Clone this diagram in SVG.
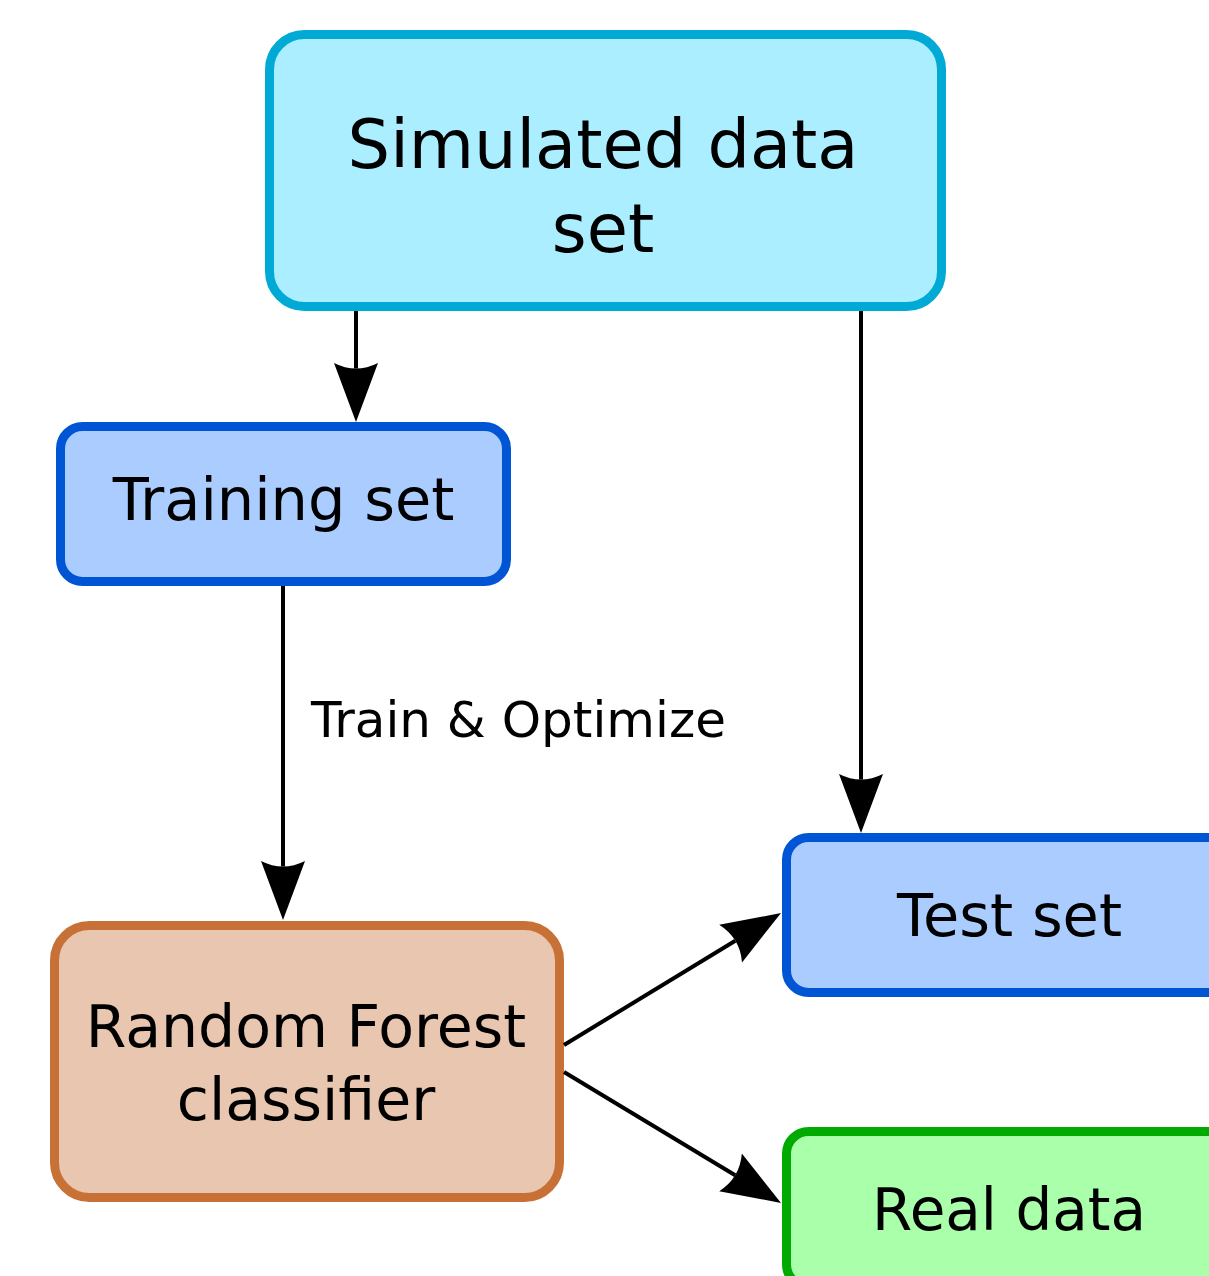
<svg xmlns="http://www.w3.org/2000/svg" width="1209" height="1276" viewBox="0 0 1209 1276">
  <style>
    .box { stroke-width: 9; }
    .sim { fill: #aaeeff; stroke: #00aad4; }
    .set { fill: #aaccff; stroke: #0055d4; }
    .rf { fill: #e9c6af; stroke: #c87137; }
    .real { fill: #aaffaa; stroke: #00aa00; }
    text { font-family: "DejaVu Sans", "Liberation Sans", sans-serif; fill: #000; text-anchor: middle; }
    .lbl { font-size: 59px; }
    .big { font-size: 67px; }
    .edge-lbl { font-size: 50px; text-anchor: start; }
    .edge { fill: none; stroke: #000; stroke-width: 4; marker-end: url(#head); }
  </style>
  <defs>
    <marker id="head" markerUnits="userSpaceOnUse" viewBox="0 -23 60 46" markerWidth="60" markerHeight="46" refX="5.5" refY="0" orient="auto">
      <path d="M59,0 L0,-22 Q11,0 0,22 Z" fill="#000"/>
    </marker>
  </defs>

  <g id="simulated">
    <rect class="box sim" x="269.5" y="34.5" width="672" height="272" rx="35"/>
    <text class="big" x="603" y="168">Simulated data</text>
    <text class="big" x="603" y="252">set</text>
  </g>

  <g id="training">
    <rect class="box set" x="60.5" y="426.5" width="446" height="155" rx="22"/>
    <text class="lbl" x="283.5" y="520">Training set</text>
  </g>

  <g id="forest">
    <rect class="box rf" x="54.5" y="925.5" width="505" height="272" rx="35"/>
    <text class="lbl" x="306" y="1047" style="font-size:58.5px">Random Forest</text>
    <text class="lbl" x="306" y="1120" style="font-size:58.5px">classifier</text>
  </g>

  <g id="test">
    <rect class="box set" x="786.5" y="837.5" width="446" height="155" rx="22"/>
    <text class="lbl" x="1009.5" y="936">Test set</text>
  </g>

  <g id="real">
    <rect class="box real" x="786.5" y="1131.5" width="446" height="155" rx="22"/>
    <text class="lbl" x="1009" y="1230" style="font-size:58px">Real data</text>
  </g>

  <g id="connectors">
    <path class="edge" d="M356,311 L356,368.5"/>
    <path class="edge" d="M861,311 L861,779.5"/>
    <path class="edge" d="M283,586 L283,866.5"/>
    <path class="edge" d="M564,1045 L735.3,940.8"/>
    <path class="edge" d="M564,1072 L735.2,1175.3"/>
    <text class="edge-lbl" x="311" y="737">Train &amp; Optimize</text>
  </g>
</svg>
